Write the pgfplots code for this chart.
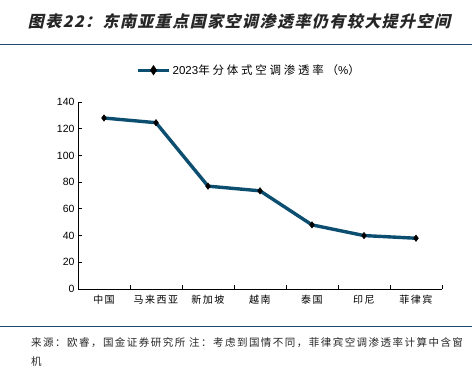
\documentclass[border=0pt]{standalone}
\usepackage{pgfplots}
\pgfplotsset{compat=1.18}
\usepackage{fontspec}
\setmainfont{Liberation Sans}
\newfontfamily\cjk[LetterSpace=15]{Noto Sans CJK SC}
\newfontfamily\cjksrc[LetterSpace=14]{Noto Sans CJK SC}
\newfontfamily\cjkleg[LetterSpace=24]{Noto Sans CJK SC}
\newfontfamily\cjktitle[FakeSlant=0.22,LetterSpace=9]{Noto Sans CJK SC}
\definecolor{linecol}{RGB}{12,78,112}
\definecolor{rulecol}{RGB}{31,73,110}
\begin{document}
\begin{tikzpicture}[x=1pt,y=1pt]
\path[use as bounding box] (0,0) rectangle (472,369);
\node[font=\cjktitle\bfseries\fontsize{16}{18}\selectfont, text=black!85] at (239,348) {图表22：东南亚重点国家空调渗透率仍有较大提升空间};
\draw[rulecol, line width=1pt] (0,324) -- (472,324);
\draw[rulecol, line width=1pt] (0,42) -- (472,42);
\node[anchor=west, inner sep=0pt, font=\cjksrc\fontsize{10.5}{12}\selectfont, text=black!85] at (31,26) {来源：欧睿，国金证券研究所\ 注：考虑到国情不同，菲律宾空调渗透率计算中含窗};
\node[anchor=west, inner sep=0pt, font=\cjksrc\fontsize{10.5}{12}\selectfont, text=black!85] at (31,7) {机};
\begin{axis}[
  at={(78pt,80pt)}, anchor=south west,
  scale only axis, width=364pt, height=187pt,
  xmin=-0.5, xmax=6.5, ymin=0, ymax=140,
  axis x line*=bottom, axis y line*=left,
  axis line style={black, line width=0.8pt},
  xtick={0,...,6},
  xticklabels={中国,马来西亚,新加坡,越南,泰国,印尼,菲律宾},
  x tick label style={font=\cjk\fontsize{10}{12}\selectfont, yshift=-3pt},
  major x tick style={draw=none},
  minor xtick={0.5,1.5,...,6.5},
  minor x tick style={black, line width=0.8pt},
  minor tick length=4pt,
  ytick={0,20,...,140},
  y tick label style={font=\fontsize{10.5}{12}\selectfont},
  major y tick style={black, line width=0.8pt},
  major tick length=4pt,
  tick align=inside,
  /pgf/number format/assume math mode=true,
  legend style={draw=none, at={(0.47,1.17)}, anchor=center, font=\cjkleg\fontsize{11.5}{13}\selectfont, inner sep=1pt},
  legend cell align=left,
  legend image code/.code={
    \draw[linecol, line width=3.4pt] (0pt,0pt) -- (31pt,0pt);
    \fill[black] (15.5pt,2.2pt) -- (17pt,0pt) -- (15.5pt,-2.2pt) -- (14pt,0pt) -- cycle;
  },
]
\addplot[linecol, line width=3.4pt, mark=diamond*, mark size=3.2pt, mark options={fill=black, draw=black, line width=0.5pt}]
  coordinates {(0,128) (1,124.5) (2,77) (3,73.5) (4,48) (5,40) (6,38)};
\addlegendentry{{\rmfamily 2023}年分体式空调渗透率（{\rmfamily\%}）}
\end{axis}
\end{tikzpicture}
\end{document}
